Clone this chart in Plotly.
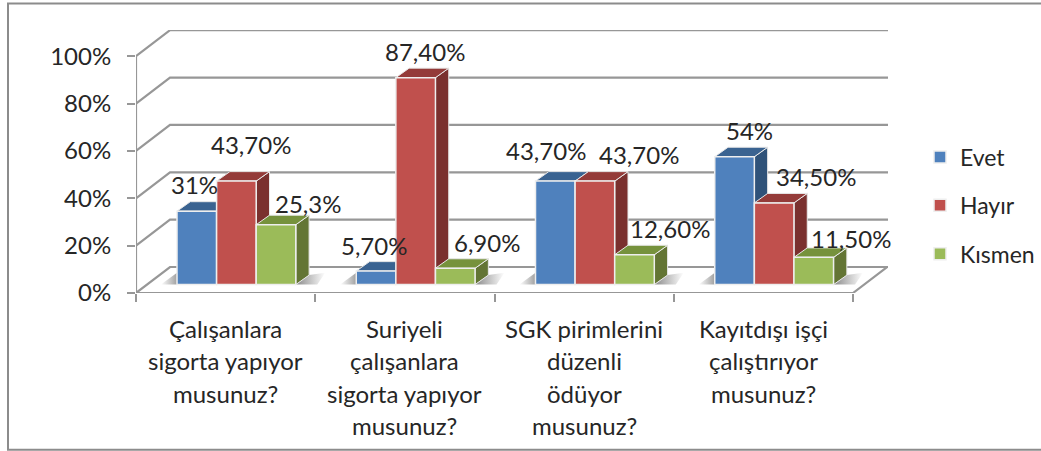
import plotly.graph_objects as go

categories = [
    ["Çalışanlara", "sigorta yapıyor", "musunuz?"],
    ["Suriyeli", "çalışanlara", "sigorta yapıyor", "musunuz?"],
    ["SGK pirimlerini", "düzenli", "ödüyor", "musunuz?"],
    ["Kayıtdışı işçi", "çalıştırıyor", "musunuz?"],
]
series_names = ["Evet", "Hayır", "Kısmen"]
evet = [31, 5.7, 43.7, 54]
hayir = [43.7, 87.4, 43.7, 34.5]
kismen = [25.3, 6.9, 12.6, 11.5]
evet_labels = ["31%", "5,70%", "43,70%", "54%"]
hayir_labels = ["43,70%", "87,40%", "43,70%", "34,50%"]
kismen_labels = ["25,3%", "6,90%", "12,60%", "11,50%"]
y_ticks = [0, 20, 40, 60, 80, 100]

values = [evet, hayir, kismen]
labels = [evet_labels, hayir_labels, kismen_labels]
front = ["#4F81BD", "#C0504D", "#9BBB59"]
top = ["#3A6391", "#943B39", "#76923C"]
side = ["#2F5279", "#7A302E", "#637534"]
# label offsets from the bar's front-top centre, in pixels (right, up)
label_off = [
    [(-2, 27), (-2, 26), (-9, 31), (15, 26)],
    [(15, 37), (9, 26), (44, 27), (42, 26)],
    [(32, 21), (32, 26), (35, 26), (37, 19)],
]

W, H = 1041, 451
PX_L, PX_R, PX_B, PX_T = 136, 888, 292.7, 29.5
PX_X = 179.25   # px per category
PX_Y = 2.37     # px per percent
WALL_DX, WALL_DY = 34 / PX_X, 26 / PX_Y
BAR_DX, BAR_DY = 13.3 / PX_X, 9.5 / PX_Y
BAR_W = 39.6 / PX_X
BAR_START = 41 / PX_X
LIFT = 8.4 / PX_Y
XR = [0, (PX_R - PX_L) / PX_X]
YR = [0, (PX_B - PX_T) / PX_Y]
GRID = "#979797"
TEXT = "#262626"
FONT = "Lato"
N = len(categories)

fig = go.Figure()


def line(xs, ys, width=2.2):
    fig.add_trace(go.Scatter(x=xs, y=ys, mode="lines", showlegend=False, hoverinfo="skip",
                             line=dict(color=GRID, width=width)))


# walls and floor
for v in y_ticks:
    line([0, WALL_DX, XR[1]], [v, v + WALL_DY, v + WALL_DY])
line([0, 0], [0, 100])
line([0, N, N + WALL_DX], [0, 0, WALL_DY])

# floor shadows
for i in range(N):
    l = i + BAR_START
    r = l + 3 * BAR_W
    fig.add_trace(go.Scatter(
        x=[r, r + BAR_DX, r + BAR_DX + 0.09, r + 0.12, r], y=[LIFT, LIFT + BAR_DY, LIFT + BAR_DY + 1, LIFT, LIFT],
        fill="toself", mode="none", showlegend=False, hoverinfo="skip",
        fillgradient=dict(type="horizontal", colorscale=[[0, "#8a8a8a"], [1, "#ffffff"]])))
    fig.add_trace(go.Scatter(
        x=[l - 0.09, l, l, l - 0.09], y=[LIFT, LIFT, LIFT + BAR_DY + 1, LIFT],
        fill="toself", mode="none", showlegend=False, hoverinfo="skip",
        fillgradient=dict(type="horizontal", colorscale=[[0, "#ffffff"], [1, "#a0a0a0"]])))

# bar sides and tops, painted left to right
for i in range(N):
    for s in range(3):
        v = values[s][i] + LIFT
        l = i + BAR_START + s * BAR_W
        r = l + BAR_W
        edge = dict(color="#e8e8e8", width=1)
        fig.add_trace(go.Scatter(
            x=[r, r + BAR_DX, r + BAR_DX, r, r], y=[LIFT, LIFT + BAR_DY, v + BAR_DY, v, LIFT],
            fill="toself", fillcolor=side[s], mode="lines", line=edge, showlegend=False, hoverinfo="skip"))
        fig.add_trace(go.Scatter(
            x=[l, l + BAR_DX, r + BAR_DX, r, l], y=[v, v + BAR_DY, v + BAR_DY, v, v],
            fill="toself", fillcolor=top[s], mode="lines", line=edge, showlegend=False, hoverinfo="skip"))

# bar fronts
for s in range(3):
    fig.add_trace(go.Bar(
        x=[i + BAR_START + (s + 0.5) * BAR_W for i in range(N)],
        y=values[s], base=LIFT, width=BAR_W, name=series_names[s],
        marker=dict(color=front[s], line=dict(color="#eeeeee", width=1.5)),
        xaxis="x2", yaxis="y2", legendgroup=series_names[s], hoverinfo="skip"))

ann = []
for s in range(3):
    for i in range(N):
        dx, dy = label_off[s][i]
        ann.append(dict(x=i + BAR_START + (s + 0.5) * BAR_W, y=values[s][i] + LIFT, xref="x", yref="y",
                        text=labels[s][i], showarrow=False, xshift=dx, yshift=dy,
                        xanchor="center", yanchor="middle", font=dict(family=FONT, size=24, color=TEXT)))
for i, lines_ in enumerate(categories):
    for k, t in enumerate(lines_):
        ann.append(dict(x=i + 0.5, y=0, xref="x", yref="y", text=t, showarrow=False,
                        yshift=-(35.5 + 32.4 * k), xanchor="center", yanchor="middle",
                        font=dict(family=FONT, size=24, color=TEXT)))

pw, ph = PX_R - PX_L, PX_B - PX_T
def px(x): return (x - PX_L) / pw
def py(y): return (PX_B - y) / ph

fig.update_layout(
    width=W, height=H, autosize=False,
    margin=dict(l=PX_L, r=W - PX_R, t=PX_T, b=H - PX_B, pad=0),
    paper_bgcolor="white", plot_bgcolor="rgba(0,0,0,0)", barmode="overlay",
    font=dict(family=FONT, color=TEXT),
    xaxis=dict(range=XR, tickmode="array", tickvals=list(range(N + 1)), ticktext=[""] * (N + 1),
               ticks="outside", ticklen=8, tickwidth=2, tickcolor=GRID,
               showgrid=False, zeroline=False, showline=False),
    yaxis=dict(range=YR, tickmode="array", tickvals=y_ticks, ticktext=[f"{v}%" for v in y_ticks],
               ticks="outside", ticklen=8, tickwidth=2, tickcolor=GRID, ticklabelstandoff=11,
               tickfont=dict(family=FONT, size=24, color=TEXT),
               showgrid=False, zeroline=False, showline=False),
    xaxis2=dict(range=XR, overlaying="x", visible=False),
    yaxis2=dict(range=YR, overlaying="y", visible=False),
    annotations=ann,
    legend=dict(xref="container", yref="container", x=920 / W, y=1 - 135.5 / H, xanchor="left", yanchor="top",
                tracegroupgap=15.5, font=dict(family=FONT, size=23, color=TEXT), bgcolor="rgba(0,0,0,0)",
                itemwidth=30, traceorder="grouped"),
    shapes=[dict(type="rect", xref="paper", yref="paper", x0=px(8), x1=px(1046), y0=py(3), y1=py(449.5),
                 line=dict(color="#8c8c8c", width=2), fillcolor="rgba(0,0,0,0)", layer="below")],
)
fig.write_html("out.html", config={"displayModeBar": False},
               post_script="document.body.style.margin='0';document.body.style.overflow='hidden';")
